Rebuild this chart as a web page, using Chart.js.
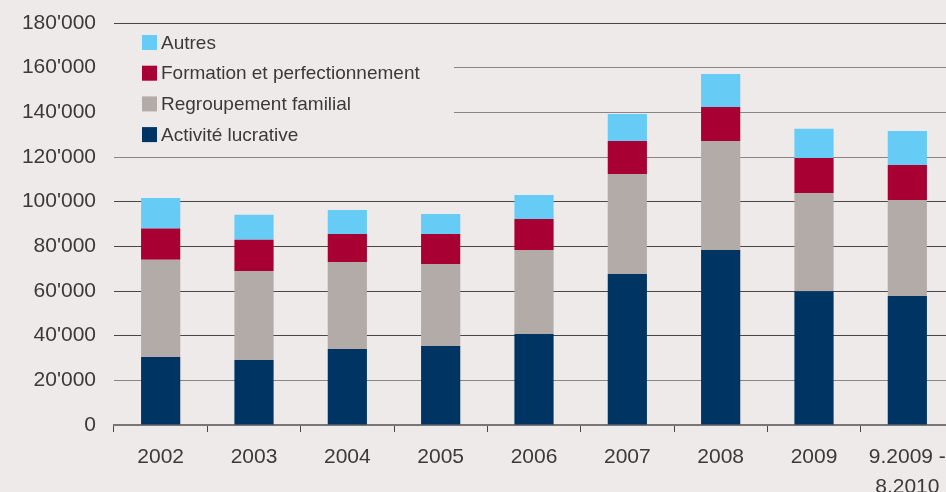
<!DOCTYPE html>
<html>
<head>
<meta charset="utf-8">
<script src="https://cdn.jsdelivr.net/npm/chart.js@4/dist/chart.umd.min.js"></script>
<style>
  html, body { margin: 0; padding: 0; background: #eeeae9; overflow: hidden; }
  #wrap { width: 946px; height: 492px; overflow: hidden; }
</style>
</head>
<body>
<div id="wrap"><canvas id="chart" width="960" height="492"></canvas></div>
<script>
const years = ['2002', '2003', '2004', '2005', '2006', '2007', '2008', '2009', ['9.2009 -', '8.2010']];
const activite = [30500, 29100, 34000, 35400, 40750, 67600, 78400, 59900, 57800];
const regroupement = [43500, 39900, 39000, 36700, 37600, 44800, 48800, 44000, 43000];
const formation = [14000, 13900, 12500, 13400, 13900, 14800, 15200, 15700, 15600];
const autres = [13600, 11200, 10800, 9000, 10700, 12100, 14800, 13000, 15200];
const yTicks = [0, 20000, 40000, 60000, 80000, 100000, 120000, 140000, 160000, 180000];

const bg = '#eeeae9';
const textColor = '#3d3939';
const fontFamily = '"Liberation Sans", Arial, Helvetica, sans-serif';

// legend drawn inside the plot, top-left, with a patch hiding the gridlines
const insideLegend = {
    id: 'insideLegend',
    beforeDatasetsDraw(chart) {
        const ctx = chart.ctx;
        const area = chart.chartArea;
        ctx.save();
        ctx.fillStyle = bg;
        ctx.fillRect(area.left, 29, 340, 121);
        const items = chart.data.datasets.slice().reverse();
        ctx.font = '19px ' + fontFamily;
        ctx.textBaseline = 'middle';
        items.forEach((ds, i) => {
            const cy = 42.5 + i * 30.7;
            ctx.fillStyle = ds.backgroundColor;
            ctx.fillRect(142, cy - 7.5, 15, 15);
            ctx.fillStyle = textColor;
            ctx.fillText(ds.label, 161, cy + 1);
        });
        ctx.restore();
    }
};

new Chart(document.getElementById('chart'), {
    type: 'bar',
    data: {
        labels: years,
        datasets: [
            { label: 'Activité lucrative', data: activite, backgroundColor: '#003462' },
            { label: 'Regroupement familial', data: regroupement, backgroundColor: '#b3aba8' },
            { label: 'Formation et perfectionnement', data: formation, backgroundColor: '#a80032' },
            { label: 'Autres', data: autres, backgroundColor: '#66ccf5' }
        ]
    },
    options: {
        responsive: false,
        devicePixelRatio: 1,
        animation: false,
        layout: { padding: { top: 23, right: 6, left: 0, bottom: 0 } },
        datasets: { bar: { categoryPercentage: 1, barPercentage: 0.42, borderWidth: 0 } },
        plugins: { legend: { display: false }, tooltip: { enabled: false } },
        scales: {
            x: {
                stacked: true,
                afterFit(scale) { scale.height = 67; },
                grid: { drawOnChartArea: false, drawTicks: true, tickLength: 7, color: '#4a4646', offset: true },
                border: { display: true, color: '#7a7676', width: 2 },
                ticks: {
                    color: textColor,
                    padding: 11,
                    maxRotation: 0,
                    autoSkip: false,
                    font: { family: fontFamily, size: 21, lineHeight: 1.4 }
                }
            },
            y: {
                stacked: true,
                min: 0,
                max: 180000,
                afterFit(scale) {
                    scale.width = 114;
                    scale.paddingTop = 0;
                    scale.paddingBottom = 0;
                },
                afterBuildTicks(scale) { scale.ticks = yTicks.map(v => ({ value: v })); },
                grid: {
                    drawTicks: false,
                    lineWidth: 1,
                    color: c => ([20000, 120000, 140000, 160000].includes(c.tick.value) ? '#8a8585' : '#4a4646')
                },
                border: { display: false },
                ticks: {
                    color: textColor,
                    padding: 18,
                    font: { family: fontFamily, size: 21 },
                    callback: v => String(v).replace(/\B(?=(\d{3})+(?!\d))/g, "'")
                }
            }
        }
    },
    plugins: [insideLegend]
});
</script>
</body>
</html>
